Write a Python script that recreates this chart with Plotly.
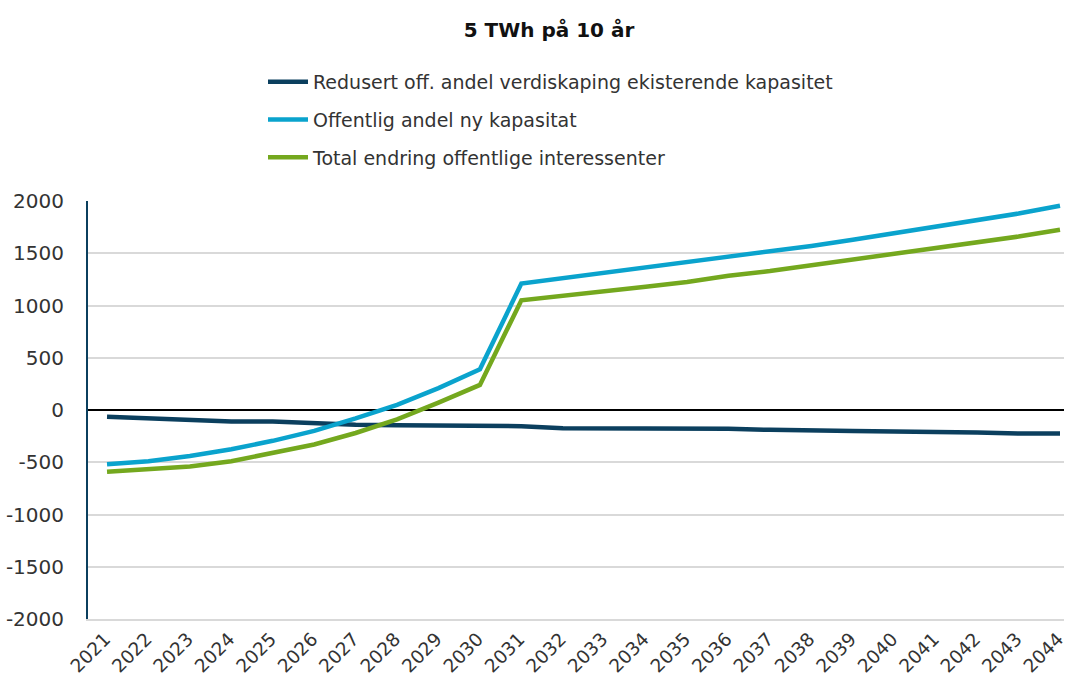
import plotly.graph_objects as go

years = list(range(2021, 2045))
year_labels = [str(y) for y in years]
y_ticks = [-2000, -1500, -1000, -500, 0, 500, 1000, 1500, 2000]
y_tick_labels = ["-2000", "-1500", "-1000", "-500", "0", "500", "1000", "1500", "2000"]

redusert = [-65, -80, -100, -110, -110, -130, -140, -145, -145, -150, -155, -175,
            -175, -175, -185, -180, -190, -200, -200, -205, -205, -215, -225, -225]
ny_kapasitet = [-520, -490, -440, -375, -295, -200, -80, 50, 210, 390, 1210, 1260,
                1310, 1360, 1410, 1465, 1515, 1570, 1630, 1690, 1750, 1815, 1880, 1955]
total = [-590, -560, -540, -490, -410, -330, -220, -90, 70, 240, 1050, 1090,
         1135, 1180, 1225, 1285, 1330, 1385, 1435, 1490, 1545, 1605, 1660, 1725]

names = ["Redusert off. andel verdiskaping ekisterende kapasitet",
         "Offentlig andel ny kapasitat",
         "Total endring offentlige interessenter"]
colors = ["#0B3F5E", "#0AA3CD", "#74A81E"]

FONT = "DejaVu Sans, Liberation Sans, Arial, sans-serif"

fig = go.Figure()
for i, (vals, name, col) in enumerate(zip([redusert, ny_kapasitet, total], names, colors)):
    fig.add_trace(go.Scatter(x=years, y=vals, name=name, mode="lines",
                             line=dict(color=col, width=4.5),
                             legendgroup=f"g{i}"))

fig.update_layout(
    width=1066, height=677,
    margin=dict(l=88, r=2, t=201, b=58),
    paper_bgcolor="white", plot_bgcolor="white",
    font=dict(family=FONT, color="#404040"),
    title=dict(text="<b>5 TWh på 10 år</b>", x=0.515, xanchor="center", y=1 - 30/677, yanchor="middle",
               font=dict(size=20, color="#111111", family=FONT)),
    legend=dict(orientation="v", x=(263-88)/976, xanchor="left", y=1 + (201-63)/418, yanchor="top",
                font=dict(size=19, color="#333333"), tracegroupgap=10, itemwidth=40,
                bgcolor="rgba(0,0,0,0)"),
    showlegend=True,
)
fig.update_xaxes(range=[2021 - 19/41.4, 2044 + 4/41.4], tickvals=years, ticktext=year_labels,
                 tickangle=-45, tickfont=dict(size=18.5, color="#333333"), showgrid=False,
                 showline=True, linecolor="#D9D9D9", linewidth=2, zeroline=False, ticks="",
                 automargin=False, ticklabeloverflow="allow", ticklabelshift=-2)
fig.update_yaxes(range=[-2000, 2000], tickvals=y_ticks, ticktext=y_tick_labels,
                 tickfont=dict(size=20, color="#333333"), showgrid=True, gridcolor="#D9D9D9",
                 gridwidth=1.5, zeroline=True, zerolinecolor="#000000", zerolinewidth=2,
                 showline=True, linecolor="#0B3F5E", linewidth=2, ticks="", ticklabelstandoff=18,
                 automargin=False)

fig.write_html("out.html", config={"displayModeBar": False},
               post_script="document.body.style.margin='0';document.body.style.overflow='hidden';")
